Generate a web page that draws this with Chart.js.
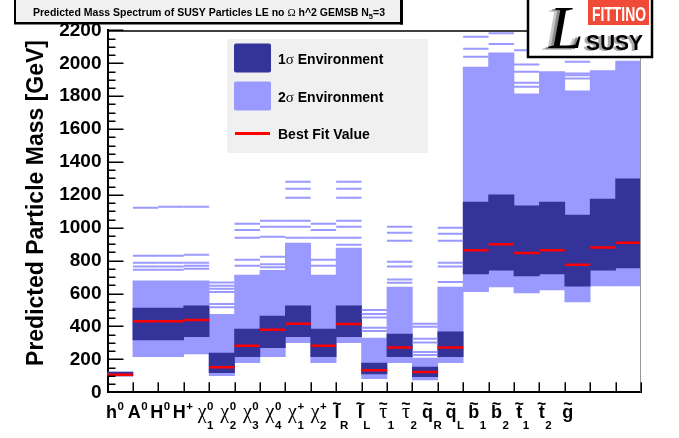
<!DOCTYPE html>
<html>
<head>
<meta charset="utf-8">
<script src="https://cdn.jsdelivr.net/npm/chart.js@4.4.1/dist/chart.umd.min.js"></script>
<style>
  html, body { margin: 0; padding: 0; background: #fff; }
  canvas { display: block; }
</style>
</head>
<body>
<canvas id="c" width="679" height="438"></canvas>
<script>
// Particle categories along the x axis
const categories = ['h0','A0','H0','H+','chi10','chi20','chi30','chi40','chi1+','chi2+',
                    'lR','lL','tau1','tau2','qR','qL','b1','b2','t1','t2','g'];

// 2 sigma environment (GeV)
const sigma2Low  = [100, 216, 216, 233, 101, 180, 216, 301, 180, 301,  83, 180,  75, 180,  612,  640,  604,  622,  549,  646,  646];
const sigma2High = [123, 677, 677, 677, 474, 713, 742, 907, 713, 877, 330, 640, 208, 640, 1977, 2063, 1815, 1949, 1832, 1955, 2014];

// 1 sigma environment (GeV)
const sigma1Low  = [100, 318, 318, 338, 119, 216, 271, 338, 216, 338, 111, 216,  95, 216,  719,  743,  707,  719,  645,  743,  756];
const sigma1High = [123, 512, 512, 525, 239, 385, 464, 525, 385, 525, 178, 354, 154, 367, 1157, 1200, 1133, 1157, 1078, 1175, 1297];

// Best fit masses (GeV)
const bestFit    = [107, 432, 432, 440, 152, 283, 381, 417, 283, 415, 134, 273, 123, 273,  863,  900,  847,  863,  776,  881,  909];

// Further 2 sigma solutions, drawn as single levels (GeV)
const extraLevels = [
  [],
  [1122, 830, 788, 764, 745],
  [1128, 830, 788, 764, 745],
  [1128, 836, 788, 770, 751],
  [668, 648, 630, 610, 537, 517],
  [1025, 987, 940, 806, 770],
  [1043, 1007, 946, 824, 778, 760],
  [1280, 1238, 1183, 1043, 1007, 940],
  [1025, 987, 940, 806, 770],
  [1280, 1238, 1183, 1043, 1007, 940, 897],
  [500, 476, 454, 393, 373],
  [1007, 970, 922, 794, 764, 685, 666],
  [417, 399, 326, 302, 245, 227],
  [1001, 964, 922, 788, 764, 670],
  [2162, 2089, 2040],
  [2182, 2117],
  [2079, 1992, 1949, 1882, 1858],
  [],
  [2010, 1938, 1928, 1908],
  [],
  [1343, 1318]
];

// Axis range and tick spacing (GeV)
const yMax = 2200;
const yMajorStep = 200;
const yMinorStep = 50;

// x axis label pieces: base symbol, superscript, subscript, tilde
const xLabelParts = [
  {base:'h', sup:'0'}, {base:'A', sup:'0'}, {base:'H', sup:'0'}, {base:'H', sup:'+'},
  {base:'χ', greek:true, sup:'0', sub:'1'}, {base:'χ', greek:true, sup:'0', sub:'2'},
  {base:'χ', greek:true, sup:'0', sub:'3'}, {base:'χ', greek:true, sup:'0', sub:'4'},
  {base:'χ', greek:true, sup:'+', sub:'1'}, {base:'χ', greek:true, sup:'+', sub:'2'},
  {base:'l', tilde:true, sub:'R'}, {base:'l', tilde:true, sub:'L'},
  {base:'τ', greek:true, tilde:true, sub:'1'}, {base:'τ', greek:true, tilde:true, sub:'2'},
  {base:'q', tilde:true, sub:'R'}, {base:'q', tilde:true, sub:'L'},
  {base:'b', tilde:true, sub:'1'}, {base:'b', tilde:true, sub:'2'},
  {base:'t', tilde:true, sub:'1'}, {base:'t', tilde:true, sub:'2'},
  {base:'g', tilde:true}
];

const titleText = 'Predicted Mass Spectrum of SUSY Particles LE no ';
const yTitle = 'Predicted Particle Mass [GeV]';
const legendLabels = ['Environment', 'Environment', 'Best Fit Value'];

const SANS = '"Liberation Sans", Arial, Helvetica, sans-serif';
const SERIF = '"Liberation Serif", "Times New Roman", serif';
const DARK = '#333399';
const LIGHT = '#9999ff';
const RED = '#ff0000';

const halfBin = (ctx) => {
  const xs = ctx.chart.scales.x;
  return xs ? xs.width / categories.length / 2 : 12;
};

const extraPoints = extraLevels.flatMap((levels, i) => levels.map(v => ({x: categories[i], y: v})));

function drawTickLabel(c, cx, p) {
  const baseFont = p.greek ? `20px ${SERIF}` : `bold 18px ${SANS}`;
  const scriptFont = `bold 11.5px ${SANS}`;
  c.font = baseFont;
  const wb = c.measureText(p.base).width;
  c.font = scriptFont;
  const ws = Math.max(p.sup ? c.measureText(p.sup).width : 0, p.sub ? c.measureText(p.sub).width : 0);
  const gap = ws ? 0.5 : 0;
  const x0 = cx - (wb + gap + ws) / 2;
  c.textAlign = 'left';
  c.textBaseline = 'alphabetic';
  c.font = baseFont;
  c.fillText(p.base, x0, 418);
  if (p.tilde) {
    c.font = `bold 16px ${SANS}`;
    c.textAlign = 'center';
    c.fillText('~', x0 + wb / 2, 409);
    c.textAlign = 'left';
  }
  c.font = scriptFont;
  if (p.sup) c.fillText(p.sup, x0 + wb + gap, 409.5);
  if (p.sub) c.fillText(p.sub, x0 + wb + gap, 428.5);
}

function drawLegend(c) {
  c.fillStyle = '#f0f0f0';
  c.fillRect(227, 39, 201, 114);
  c.fillStyle = DARK;
  c.beginPath(); c.roundRect(234, 43.5, 37, 29, 2); c.fill();
  c.fillStyle = LIGHT;
  c.beginPath(); c.roundRect(234, 81.5, 37, 29, 2); c.fill();
  c.strokeStyle = RED; c.lineWidth = 3;
  c.beginPath(); c.moveTo(235, 133.5); c.lineTo(270, 133.5); c.stroke();

  c.fillStyle = '#000';
  c.textAlign = 'left'; c.textBaseline = 'alphabetic';
  const rows = [['1', 64], ['2', 102]];
  rows.forEach(([n, y], k) => {
    let x = 278;
    c.font = `bold 14px ${SANS}`;
    c.fillText(n, x, y); x += c.measureText(n).width;
    c.font = `15px ${SERIF}`;
    c.fillText('σ', x, y); x += c.measureText('σ').width;
    c.font = `bold 14px ${SANS}`;
    c.fillText(' ' + legendLabels[k], x, y);
  });
  c.font = `bold 14px ${SANS}`;
  c.fillText(legendLabels[2], 278, 139);
}

function drawTitleBox(c) {
  c.fillStyle = '#f0f0f0';
  c.fillRect(15, 0, 386, 22);
  c.fillStyle = '#000';
  c.fillRect(14, 0, 2, 24);
  c.fillRect(14, 22, 389, 2.5);
  c.fillRect(400, 0, 3, 24.5);
  const bold = `bold 10.5px ${SANS}`;
  const segs = [
    {t: titleText, f: bold, dy: 0},
    {t: 'Ω', f: `11px ${SERIF}`, dy: 0},
    {t: ' h^2 GEMSB N', f: bold, dy: 0},
    {t: '5', f: `bold 7.5px ${SANS}`, dy: 2.5},
    {t: '=3', f: bold, dy: 0}
  ];
  let total = 0;
  segs.forEach(s => { c.font = s.f; s.w = c.measureText(s.t).width; total += s.w; });
  let x = 209 - total / 2;
  c.textAlign = 'left'; c.textBaseline = 'alphabetic';
  segs.forEach(s => { c.font = s.f; c.fillText(s.t, x, 16 + s.dy); x += s.w; });
}

function drawLogo(c) {
  c.fillStyle = '#fff';
  c.fillRect(528, 0, 124, 57);
  c.strokeStyle = '#000'; c.lineWidth = 2.5;
  c.strokeRect(528, -3, 124, 60);
  c.fillStyle = '#f04b38';
  c.fillRect(588, 0, 61, 25);
  // FITTINO
  c.save();
  c.fillStyle = '#fff';
  c.font = `bold 20px ${SANS}`;
  c.textBaseline = 'alphabetic'; c.textAlign = 'left';
  const w = c.measureText('FITTINO').width;
  c.translate(592, 21);
  c.scale(54 / w, 1);
  c.fillText('FITTINO', 0, 0);
  c.restore();
  // script L with shadow
  c.save();
  c.font = `italic 62px ${SERIF}`;
  c.textAlign = 'left'; c.textBaseline = 'alphabetic';
  c.fillStyle = '#c8c8c8'; c.fillText('L', 543, 50);
  c.fillStyle = '#8a8a8a'; c.fillText('L', 546, 49);
  c.fillStyle = '#000'; c.fillText('L', 549, 48);
  c.restore();
  // SUSY with shadow
  c.save();
  c.font = `bold 22px ${SANS}`;
  c.textAlign = 'left'; c.textBaseline = 'alphabetic';
  const ws = c.measureText('SUSY').width;
  c.translate(586, 50);
  c.scale(57 / ws, 1);
  c.fillStyle = '#aaa'; c.fillText('SUSY', -3, 1);
  c.fillStyle = '#000'; c.fillText('SUSY', 0, 0);
  c.restore();
}

const decorations = {
  id: 'decorations',
  beforeDraw(chart) {
    const c = chart.ctx;
    c.save();
    c.fillStyle = '#fff';
    c.fillRect(0, 0, chart.width, chart.height);
    c.restore();
  },
  afterDraw(chart) {
    const c = chart.ctx, a = chart.chartArea, xs = chart.scales.x, ys = chart.scales.y;
    c.save();
    // frame top and right
    c.strokeStyle = '#000'; c.lineWidth = 1.5;
    c.beginPath(); c.moveTo(a.left, a.top + 0.5); c.lineTo(a.right, a.top + 0.5); c.stroke();
    c.strokeStyle = '#999'; c.lineWidth = 1;
    c.beginPath(); c.moveTo(a.right - 0.5, a.top); c.lineTo(a.right - 0.5, a.bottom); c.stroke();

    // y ticks, pointing inward
    c.strokeStyle = '#000'; c.lineWidth = 1.5;
    for (let v = 0; v <= yMax; v += yMinorStep) {
      const y = Math.round(ys.getPixelForValue(v)) + 0.25;
      const len = v % yMajorStep === 0 ? 16 : 8;
      c.beginPath(); c.moveTo(a.left, y); c.lineTo(a.left + len, y); c.stroke();
    }
    // x ticks at bin edges
    for (let i = 1; i <= categories.length; i++) {
      const x = Math.round(xs.getPixelForValue(i - 0.5)) + 0.25;
      c.beginPath(); c.moveTo(x, a.bottom); c.lineTo(x, a.bottom - 10); c.stroke();
    }

    // x labels
    c.fillStyle = '#000';
    const pitch = xs.width * 0.8913 / categories.length;
    xLabelParts.forEach((p, i) => drawTickLabel(c, xs.left + 7.5 + i * pitch, p));

    // y title
    c.save();
    c.translate(37, 40);
    c.rotate(-Math.PI / 2);
    c.font = `bold 23px ${SANS}`;
    c.textAlign = 'right'; c.textBaseline = 'middle';
    c.fillText(yTitle, 0, 0);
    c.restore();

    drawLegend(c);
    drawTitleBox(c);
    drawLogo(c);
    c.restore();
  }
};

new Chart(document.getElementById('c'), {
  type: 'bar',
  data: {
    labels: categories,
    datasets: [
      {
        type: 'line', label: 'Best Fit Value', data: bestFit, order: 0,
        showLine: false, pointStyle: 'line', pointRadius: halfBin,
        pointBorderWidth: 2.5, pointBorderColor: RED, pointBackgroundColor: RED
      },
      {
        type: 'line', label: 'levels', data: extraPoints, order: 1,
        showLine: false, pointStyle: 'line', pointRadius: halfBin,
        pointBorderWidth: 2, pointBorderColor: LIGHT, pointBackgroundColor: LIGHT
      },
      {
        label: '1σ Environment', order: 2,
        data: sigma1Low.map((lo, i) => [lo, sigma1High[i]]),
        backgroundColor: DARK, borderWidth: 0,
        barPercentage: 1, categoryPercentage: 1
      },
      {
        label: '2σ Environment', order: 3,
        data: sigma2Low.map((lo, i) => [lo, sigma2High[i]]),
        backgroundColor: LIGHT, borderWidth: 0,
        barPercentage: 1, categoryPercentage: 1
      }
    ]
  },
  options: {
    responsive: false,
    devicePixelRatio: 1,
    animation: false,
    events: [],
    layout: { padding: { top: 30.4, right: 38, left: 0, bottom: 0 } },
    plugins: { legend: { display: false }, tooltip: { enabled: false }, title: { display: false } },
    scales: {
      x: {
        stacked: true, offset: true,
        grid: { display: false, drawTicks: false },
        border: { display: true, color: '#000', width: 2 },
        ticks: { display: false },
        afterFit(s) { s.height = 45.7; }
      },
      y: {
        min: 0, max: yMax,
        grid: { display: false, drawTicks: false },
        border: { display: true, color: '#000', width: 2 },
        ticks: {
          stepSize: yMajorStep, autoSkip: false, color: '#000', padding: 6,
          font: { family: SANS, size: 19, weight: 'bold' },
          callback: (v) => String(v)
        },
        afterFit(s) { s.width = 107.5; }
      }
    }
  },
  plugins: [decorations]
});
</script>
</body>
</html>
